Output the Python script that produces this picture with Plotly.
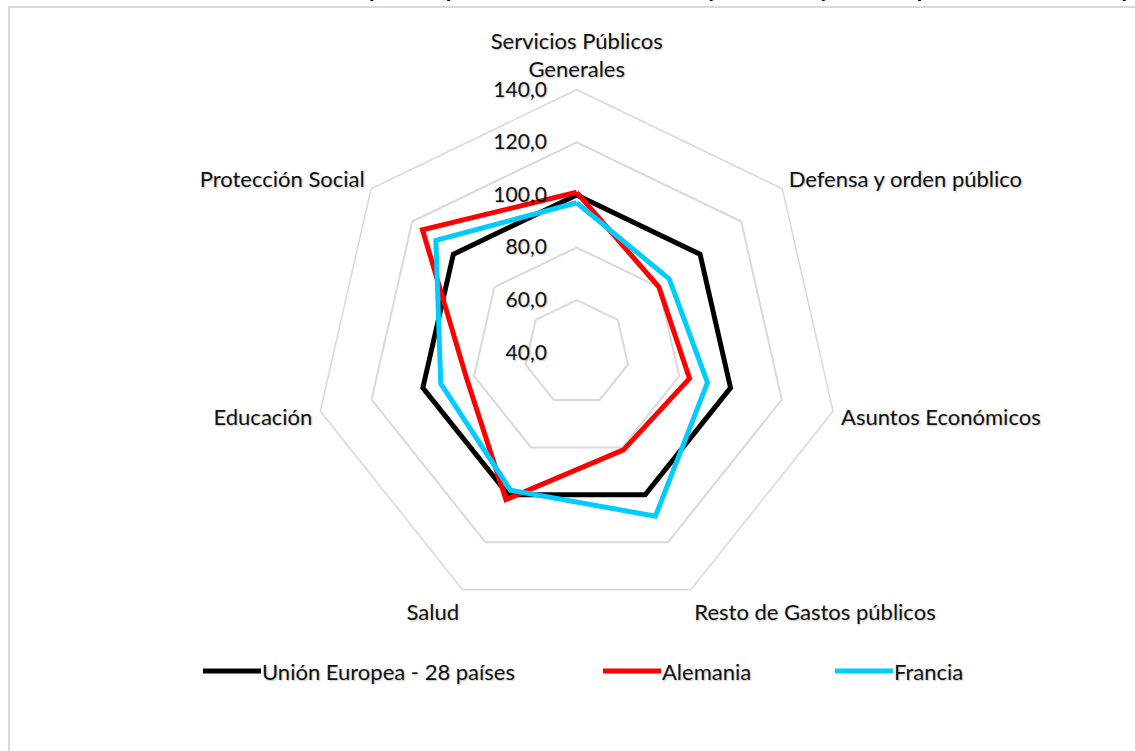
import plotly.graph_objects as go

categories = ["Servicios Públicos<br>Generales", "Defensa y orden público", "Asuntos Económicos",
              "Resto de Gastos públicos", "Salud", "Educación", "Protección Social"]
series_names = ["Unión Europea - 28 países", "Alemania", "Francia"]
ue_values = [100, 100, 100, 100, 100, 100, 100]
alemania_values = [101, 80, 84, 81, 102, 83, 115]
francia_values = [97, 85, 91, 109, 98, 93, 108.5]
radial_ticks = [40, 60, 80, 100, 120, 140]
title_text = "Gráfico 4. Gasto público por funciones en Alemania (Unión Europea = 100 países seleccionados)"

colors = ["#000000", "#FF0000", "#00CCFF"]
all_values = [ue_values, alemania_values, francia_values]

W, H = 1135, 751
cx, cy, R = 576.7, 352.7, 263.0
FONT = "Lato"
FS = 22
shadow = "1px 1px 2px rgba(0,0,0,0.25)"

fig = go.Figure()
for name, vals, col in zip(series_names, all_values, colors):
    fig.add_trace(go.Scatterpolar(
        r=vals + vals[:1], theta=categories + categories[:1], mode="lines",
        name=name, line=dict(color=col, width=5), showlegend=False,
        hoverinfo="skip"))

fig.update_layout(
    width=W, height=H,
    margin=dict(l=0, r=0, t=0, b=0),
    paper_bgcolor="white",
    separators=",.",
    polar=dict(
        domain=dict(x=[(cx - R) / W, (cx + R) / W], y=[(H - cy - R) / H, (H - cy + R) / H]),
        bgcolor="white",
        gridshape="linear",
        radialaxis=dict(range=[40, 140], tickvals=radial_ticks, tickformat=".1f",
                        angle=90, tickangle=90, side="counterclockwise", showline=False,
                        gridcolor="#D9D9D9", gridwidth=1.5,
                        ticks="outside", ticklen=22, tickcolor="rgba(0,0,0,0)",
                        tickfont=dict(family=FONT, size=FS - 1, color="#111111", shadow=shadow)),
        angularaxis=dict(rotation=90, direction="clockwise", showgrid=False,
                         showline=True, linecolor="#D9D9D9", linewidth=1.5,
                         ticks="outside", ticklen=3, tickcolor="rgba(0,0,0,0)",
                         tickfont=dict(family=FONT, size=FS, color="#111111", shadow=shadow)),
    ),
)

# Chart area border (left and top edges visible)
fig.add_shape(type="rect", xref="paper", yref="paper",
              x0=9 / W, x1=1.02, y0=-0.02, y1=1 - 7 / H,
              line=dict(color="#D9D9D9", width=2), fillcolor="rgba(0,0,0,0)", layer="below")

# Cut-off title at top
fig.add_annotation(text="<b>" + title_text + "</b>", xref="paper", yref="paper",
                   x=1131 / W, y=1 + 10 / H, xanchor="right", yanchor="middle", showarrow=False,
                   font=dict(family="Liberation Sans", size=20, color="#000000"))

# Legend (manual)
leg_y = 1 - 671 / H
leg_x = [203, 603, 835]
for name, col, x0 in zip(series_names, colors, leg_x):
    fig.add_shape(type="line", xref="paper", yref="paper",
                  x0=x0 / W, x1=(x0 + 58) / W, y0=leg_y, y1=leg_y,
                  line=dict(color=col, width=5))
    fig.add_annotation(text=name, xref="paper", yref="paper", x=(x0 + 57) / W, y=leg_y,
                       xanchor="left", yanchor="middle", showarrow=False,
                       font=dict(family=FONT, size=FS, color="#111111", shadow=shadow))

fig.write_html("out.html", config={"displayModeBar": False},
               post_script="document.body.style.margin='0';document.body.style.overflow='hidden';")
